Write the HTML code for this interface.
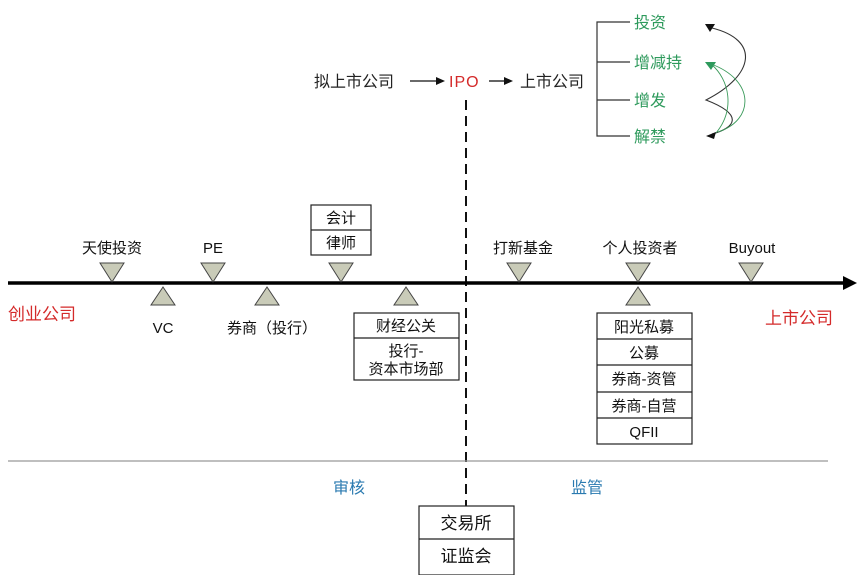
<!DOCTYPE html>
<html><head><meta charset="utf-8"><style>
body{margin:0;background:#fff}
svg text{font-family:"Liberation Sans","Noto Sans CJK SC",sans-serif}
</style></head><body>
<svg width="864" height="575" viewBox="0 0 864 575" xmlns="http://www.w3.org/2000/svg">
<rect width="864" height="575" fill="#fff"/>
<g font-size="16" fill="#222">
<text x="314" y="87">拟上市公司</text>
<text x="520" y="87">上市公司</text>
</g>
<text x="449" y="87" font-size="16" fill="#d42a2a" letter-spacing="1">IPO</text>
<line x1="410" y1="81" x2="438" y2="81" stroke="#111" stroke-width="1.3"/>
<polygon points="436,77 445,81 436,85" fill="#111"/>
<line x1="489" y1="81" x2="505" y2="81" stroke="#111" stroke-width="1.3"/>
<polygon points="504,77 513,81 504,85" fill="#111"/>
<g stroke="#333" stroke-width="1.2" fill="none">
<path d="M630,22 H597 V136 H630 M597,62 H630 M597,100 H630"/>
</g>
<g font-size="16" fill="#2e9a5c">
<text x="634" y="28">投资</text>
<text x="634" y="68">增减持</text>
<text x="634" y="106">增发</text>
<text x="634" y="142">解禁</text>
</g>
<path d="M712,28 C760,40 755,75 706,100 C745,115 735,128 712,134" stroke="#333" stroke-width="1.1" fill="none"/>
<path d="M711,64 C730,80 735,110 716,133 M711,64 C755,80 755,120 718,132" stroke="#3a9a5a" stroke-width="0.9" fill="none"/>
<polygon points="705,24 715,24 710,32" fill="#111"/>
<polygon points="705,62 716,62 711,70" fill="#2e9a5c"/>
<polygon points="706,136 716,132 714,139" fill="#111"/>
<line x1="466" y1="100" x2="466" y2="506" stroke="#111" stroke-width="2" stroke-dasharray="10,6"/>
<line x1="8" y1="283" x2="846" y2="283" stroke="#000" stroke-width="3.5"/>
<polygon points="843,276 857,283 843,290" fill="#000"/>
<line x1="8" y1="461" x2="828" y2="461" stroke="#999" stroke-width="1.3"/>
<g fill="#c9cbb8" stroke="#444" stroke-width="1">
<polygon points="100,263 124,263 112,282"/>
<polygon points="201,263 225,263 213,282"/>
<polygon points="329,263 353,263 341,282"/>
<polygon points="507,263 531,263 519,282"/>
<polygon points="626,263 650,263 638,282"/>
<polygon points="739,263 763,263 751,282"/>
<polygon points="151,305 175,305 163,287"/>
<polygon points="255,305 279,305 267,287"/>
<polygon points="394,305 418,305 406,287"/>
<polygon points="626,305 650,305 638,287"/>
</g>
<g font-size="15" fill="#111" text-anchor="middle">
<text x="112" y="253">天使投资</text>
<text x="213" y="253">PE</text>
<text x="523" y="253">打新基金</text>
<text x="640" y="253">个人投资者</text>
<text x="752" y="253">Buyout</text>
<text x="163" y="333">VC</text>
<text x="272" y="333">券商（投行）</text>
</g>
<text x="8" y="320" font-size="17" fill="#d42a2a">创业公司</text>
<text x="765" y="324" font-size="17" fill="#d42a2a">上市公司</text>
<g font-size="16" fill="#2a7ab0"><text x="333" y="493">审核</text><text x="571" y="493">监管</text></g>
<g fill="#fff" stroke="#222" stroke-width="1.2">
<rect x="311" y="205" width="60" height="50"/><line x1="311" y1="230" x2="371" y2="230"/>
<rect x="354" y="313" width="105" height="67"/><line x1="354" y1="338" x2="459" y2="338"/>
<rect x="597" y="313" width="95" height="131"/>
<line x1="597" y1="339" x2="692" y2="339"/><line x1="597" y1="365" x2="692" y2="365"/>
<line x1="597" y1="392" x2="692" y2="392"/><line x1="597" y1="418" x2="692" y2="418"/>
<rect x="419" y="506" width="95" height="69"/><line x1="419" y1="539" x2="514" y2="539"/>
</g>
<g font-size="15" fill="#111" text-anchor="middle">
<text x="341" y="223">会计</text><text x="341" y="248">律师</text>
<text x="406" y="331">财经公关</text>
<text x="406" y="356">投行-</text><text x="406" y="374">资本市场部</text>
<text x="644" y="332">阳光私募</text>
<text x="644" y="358">公募</text>
<text x="644" y="384">券商-资管</text>
<text x="644" y="411">券商-自营</text>
<text x="644" y="437">QFII</text>
<text x="466" y="529" font-size="17">交易所</text>
<text x="466" y="562" font-size="17">证监会</text>
</g>
</svg>
</body></html>
